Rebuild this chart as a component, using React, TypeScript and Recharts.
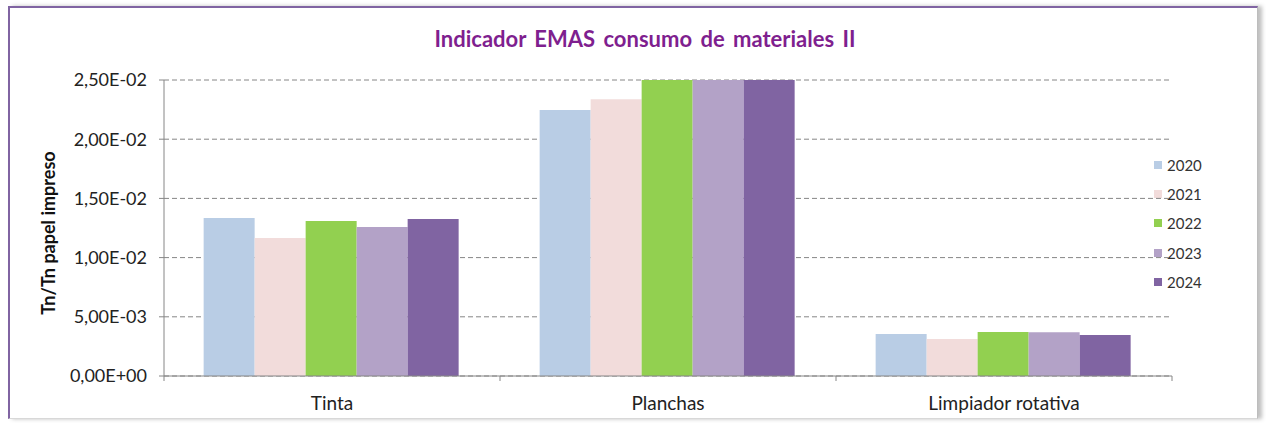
import { BarChart, Bar, XAxis, YAxis, CartesianGrid } from 'recharts'

const categories = ['Tinta', 'Planchas', 'Limpiador rotativa']
const years = ['2020', '2021', '2022', '2023', '2024']
const v2020 = [0.01334, 0.02247, 0.00355]
const v2021 = [0.01166, 0.02337, 0.00313]
const v2022 = [0.01309, 0.025, 0.00372]
const v2023 = [0.01258, 0.025, 0.0037]
const v2024 = [0.01326, 0.025, 0.00346]
const yTicks = [0, 0.005, 0.01, 0.015, 0.02, 0.025]

const colors = ['#B9CDE5', '#F2DCDB', '#92D050', '#B3A2C7', '#8064A2']
const seriesValues = [v2020, v2021, v2022, v2023, v2024]

const data = categories.map((name, i) => {
  const row: Record<string, string | number> = { name }
  years.forEach((y, j) => { row[y] = seriesValues[j][i] })
  return row
})

const FONT = 'Lato, "Liberation Sans", sans-serif'
const W = 1266
const H = 423
const MARGIN = { top: 80, right: 94, left: 64, bottom: 17 }
const Y_W = 100
const X_H = 30
const plotW = W - MARGIN.left - Y_W - MARGIN.right
const band = plotW / categories.length

// "2,50E-02" style, like a spreadsheet in a Spanish locale
const sci = (v: number) => {
  const [m, e] = v.toExponential(2).split('e')
  const sign = e.startsWith('-') ? '-' : '+'
  const exp = e.replace(/[+-]/, '').padStart(2, '0')
  return `${m.replace('.', ',')}E${sign}${exp}`
}

function CatTick(props: any) {
  const { x, y, payload, index } = props
  const half = band / 2
  return (
    <g>
      {index === 0 && <line x1={x - half} x2={x - half} y1={y - 8} y2={y - 3} stroke="#868686" />}
      <line x1={x + half} x2={x + half} y1={y - 8} y2={y - 3} stroke="#868686" />
      <text x={x} y={y + 26} textAnchor="middle" fill="#222" fontSize={19} fontFamily={FONT}>
        {payload.value}
      </text>
    </g>
  )
}

export default function App() {
  return (
    <div style={{ position: 'absolute', left: 0, top: 0, width: W, height: H, background: '#fff', overflow: 'hidden' }}>
      <div
        style={{
          position: 'absolute', left: 8, top: 6, width: 1247, height: 410,
          borderTop: '2px solid #8064A2', borderLeft: '2px solid #8064A2',
          borderBottom: '1px solid #d8d8d8', borderRight: '1px solid #bdbdbd',
          boxShadow: '4px 0 4px rgba(0,0,0,0.25)',
        }}
      />
      <div
        style={{
          position: 'absolute', left: 0, width: W, top: 25, textAlign: 'center',
          fontFamily: FONT, fontWeight: 700, fontSize: 22, color: '#7F1F8F', wordSpacing: 3,
          paddingLeft: 12,
        }}
      >
        Indicador EMAS consumo de materiales II
      </div>
      <div
        style={{
          position: 'absolute', left: 48, top: 233, transform: 'translate(-50%, -50%) rotate(-90deg)',
          whiteSpace: 'nowrap', fontFamily: FONT, fontWeight: 700, fontSize: 18, color: '#111',
        }}
      >
        Tn/Tn papel impreso
      </div>
      <div style={{ position: 'absolute', left: 1154, top: 150, fontFamily: FONT, fontSize: 15, color: '#333' }}>
        {years.map((y, i) => (
          <div key={y} style={{ display: 'flex', alignItems: 'center', height: 29.3 }}>
            <span style={{ width: 8, height: 8, background: colors[i], marginRight: 5, display: 'inline-block' }} />
            {y}
          </div>
        ))}
      </div>
      <div style={{ position: 'absolute', left: 0, top: 0 }}>
        <BarChart width={W} height={H} data={data} margin={MARGIN} barCategoryGap="11.8%" barGap={0}>
          <CartesianGrid vertical={false} stroke="#868686" strokeDasharray="5 3" />
          <XAxis
            dataKey="name"
            height={X_H}
            stroke="#868686"
            tickLine={false}
            tick={<CatTick />}
            interval={0}
          />
          <YAxis
            width={Y_W}
            domain={[0, 0.025]}
            ticks={yTicks}
            allowDataOverflow
            stroke="#868686"
            tickSize={5}
            tickFormatter={sci}
            tick={{ fill: '#222', fontSize: 18, fontFamily: FONT, dx: -10 }}
          />
          {years.map((y, i) => (
            <Bar key={y} dataKey={y} fill={colors[i]} isAnimationActive={false} />
          ))}
        </BarChart>
      </div>
    </div>
  )
}
